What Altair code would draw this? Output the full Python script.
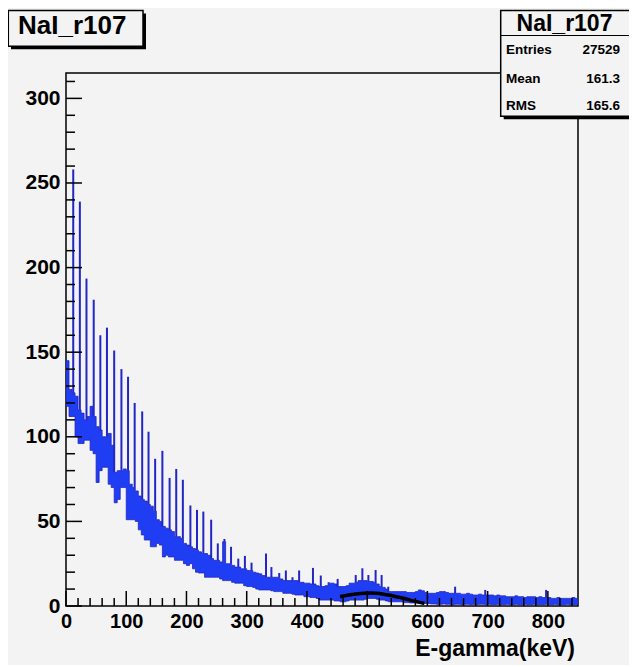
import altair as alt
import pandas as pd

BIN = 5
hi_vals = [
    145,128,126,124,116,114,110,112,118,112,
    106,104,100,100,102,95,79,80,80,81,
    80,72,70,68,65,63,62,60,59,56,
    51,50,47,46,45,44,41,41,40,37,
    36,35,34,33,32,31,31,30,28,27,
    27,26,38,25,25,24,23,23,22,22,
    21,21,20,19.5,19,18,17,17,17,17,
    17,16,15,15,15,15,15,14,14,13.5,
    13.5,13,13,12,11.5,11.5,12,13.5,13.5,13,
    11.5,11.5,11.5,12,13.5,13.5,14,15,15,15,
    14.5,14.5,14,13,11.5,11,10,8.5,8.5,8.5,
    8.5,8.5,8.5,8,8,8,8.5,9.5,9,8,
    7.5,7.5,7.5,8,8.5,8.5,8,7.5,7.5,7.5,
    7.5,7,7,7.5,7,6.5,6.5,7,6.5,6.5,
    6.5,6.5,6,6.5,6,6,5.5,5.5,5.5,6,
    5.5,5.5,5,5.5,5.5,5.5,5,5.5,5,5,
    5,4.5,4.5,5,4.5,4.5,4.5,4.5,5,4.5,
]
lo_vals = [
    118,112,112,100,96,96,98,98,92,90,
    73,80,82,82,72,70,61,63,70,70,
    51,51,51,50,45,42,39,39,35,35,
    37,36,29,30,29,29,27,27,27,25,
    24,25,22,20,19.5,19.5,17,17,17,17,
    17,16,15,15,15,14,13.5,13.5,13.5,12,
    11.5,11.5,11,10,9.5,9.5,9.5,9.5,9,8.5,
    8.5,8.5,7.5,7.5,7.5,7,6.5,6.5,6.5,5.5,
    5.5,5,5,4.5,3.5,3.5,3.5,3.5,3.5,3,
    3,2.5,2.5,3,3.5,3.5,3.5,3.5,3.5,4,
    4.5,4.5,4.5,4,3.5,3.5,3,2.5,2.5,2.5,
    2.5,2.5,2,2,1.8,1.8,1.8,1.8,1.5,1.5,
    1.5,1.2,1.2,1,1,1.2,1,1,0.8,1,
    1,0.8,1,1,0.8,1,0.8,1,1,0.8,
    1,0.8,0.8,1,0.8,0.8,1,0.8,0.8,1,
    0.8,0.8,1,0.8,0.8,1,0.8,0.8,0.8,1,
    0.8,0.8,1,0.8,0.8,0.8,1,0.8,0.8,0.8,
]
spike_e = [12, 23, 34, 46, 57, 68, 80, 92, 103, 114, 126.5, 137, 148, 160, 172,
           183, 194, 206.5, 217.5, 228, 241, 252, 263, 274, 286, 297, 308, 332,
           341, 354, 365, 376, 387, 410, 423, 436, 451, 470, 481, 492, 502, 514,
           524, 535, 646, 696, 797]
spike_v = [258, 239, 193.5, 181, 160, 164.5, 151, 140, 135.5, 120, 115, 103, 87,
           91.7, 75.7, 81, 74.6, 59.4, 56.8, 55.8, 51, 37, 39.6, 35, 28, 29.6,
           25.6, 31, 23, 19.5, 21, 17, 21, 22.5, 18, 14, 16, 13.5, 18.3, 22.3,
           18.3, 21.3, 18.3, 11.4, 11.4, 9.5, 9.5]
fit_e = [455, 465, 475, 485, 495, 505, 515, 525, 535, 545, 555, 565, 575, 585, 595]
fit_v = [5.5, 6.2, 6.8, 7.3, 7.6, 7.7, 7.5, 7.1, 6.5, 5.8, 5.0, 4.1, 3.2, 2.3, 1.5]

y_major = [0, 50, 100, 150, 200, 250, 300]
y_minor = [v for v in range(10, 320, 10) if v % 50 != 0]
x_major = [0, 100, 200, 300, 400, 500, 600, 700, 800]
x_minor = [v for v in range(20, 850, 20) if v % 100 != 0]

hist_name = "NaI_r107"
stat_names = ["Entries", "Mean", "RMS"]
stat_vals = ["27529", "161.3", "165.6"]
x_title = "E-gamma(keV)"

BG = "#f3f3f3"
BLUE = "#1f3df2"
BLUE_DARK = "#2226c4"
FONT = "Liberation Sans"

W, H = 512, 533
xs = alt.Scale(domain=[0, 850], nice=False, zero=False)
ys = alt.Scale(domain=[0, 315], nice=False, zero=False)

edges = [i * BIN for i in range(len(hi_vals))]
band_df = pd.DataFrame({
    "e": edges + [850],
    "hi": hi_vals + [hi_vals[-1]],
    "lo": lo_vals + [lo_vals[-1]],
})
spk = pd.DataFrame({"e": spike_e, "v": spike_v})
spk["base"] = [hi_vals[min(int(e // BIN), len(hi_vals) - 1)] for e in spike_e]
fit_df = pd.DataFrame({"e": fit_e, "v": fit_v})

band = alt.Chart(band_df).mark_area(
    interpolate="step-after", color=BLUE, stroke=BLUE_DARK, strokeWidth=0.8, clip=True
).encode(
    x=alt.X("e:Q", scale=xs, axis=alt.Axis(values=x_major, ticks=False, tickSize=0, domain=False,
                                           grid=False, labelFontSize=20, labelPadding=5,
                                           title=None, labelFlush=False)),
    y=alt.Y("hi:Q", scale=ys, axis=alt.Axis(values=y_major, ticks=False, tickSize=0, domain=False,
                                            grid=False, labelFontSize=21, labelPadding=6,
                                            title=None, labelFlush=False)),
    y2="lo:Q",
)

spikes = alt.Chart(spk).mark_rule(color=BLUE_DARK, strokeWidth=2, clip=True).encode(
    x=alt.X("e:Q", scale=xs), y=alt.Y("base:Q", scale=ys), y2="v:Q"
)

fit = alt.Chart(fit_df).mark_line(color="black", strokeWidth=3.5, interpolate="monotone", clip=True).encode(
    x=alt.X("e:Q", scale=xs), y=alt.Y("v:Q", scale=ys)
)

def yticks(vals, length):
    return alt.Chart(pd.DataFrame({"v": vals})).mark_rule(color="black", strokeWidth=1.5).encode(
        y=alt.Y("v:Q", scale=ys), x=alt.value(0), x2=alt.value(length)
    )

def xticks(vals, length):
    return alt.Chart(pd.DataFrame({"v": vals})).mark_rule(color="black", strokeWidth=1.5).encode(
        x=alt.X("v:Q", scale=xs), y=alt.value(H), y2=alt.value(H - length)
    )

one = pd.DataFrame({"t": [""]})

def rect(x1, x2, y1, y2, fill, stroke=None, sw=0):
    kw = dict(fill=fill)
    if stroke:
        kw.update(stroke=stroke, strokeWidth=sw)
    return alt.Chart(one).mark_rect(**kw).encode(
        x=alt.value(x1), x2=alt.value(x2), y=alt.value(y1), y2=alt.value(y2)
    )

def text(t, x, y, size, align="left"):
    return alt.Chart(pd.DataFrame({"t": [t]})).mark_text(
        font=FONT, fontWeight="bold", fontSize=size, align=align, baseline="alphabetic", color="black"
    ).encode(text="t:N", x=alt.value(x), y=alt.value(y))

# title box
tb = [rect(-55, 80, -59.5, -23.8, "black"),
      rect(-57.7, 77, -62.5, -26.8, BG, "black", 1.5),
      text(hist_name, -48, -39.5, 26)]

# stats box
sb = [rect(437.7, 567, -59.5, 46.2, "black"),
      rect(434.7, 564, -62.5, 43.2, BG, "black", 1.5),
      alt.Chart(one).mark_rule(color="black", strokeWidth=1.2).encode(
          x=alt.value(434.7), x2=alt.value(564), y=alt.value(-37.5)),
      text(hist_name, 498.5, -41.8, 23, "center")]
for name, val, yy in zip(stat_names, stat_vals, [-19.5, 9.5, 37]):
    sb.append(text(name, 440, yy, 13.5))
    sb.append(text(val, 554, yy, 13.5, "right"))

xt = text(x_title, 509, 583, 23, "right")

chart = alt.layer(
    band, spikes, fit,
    yticks(y_major, 16), yticks(y_minor, 9),
    xticks(x_major, 15), xticks(x_minor, 8),
    *tb, *sb, xt
).properties(
    width=W, height=H,
    autosize=alt.AutoSizeParams(type="none"),
    padding={"left": 58, "top": 65, "right": 51, "bottom": 59},
    background=BG,
).configure_view(
    stroke="black", strokeWidth=1.5, fill=BG
).configure_axis(
    labelFont=FONT, labelFontWeight="bold", labelColor="black"
)

chart.save("out.html", embed_options={"renderer": "svg", "actions": False})
